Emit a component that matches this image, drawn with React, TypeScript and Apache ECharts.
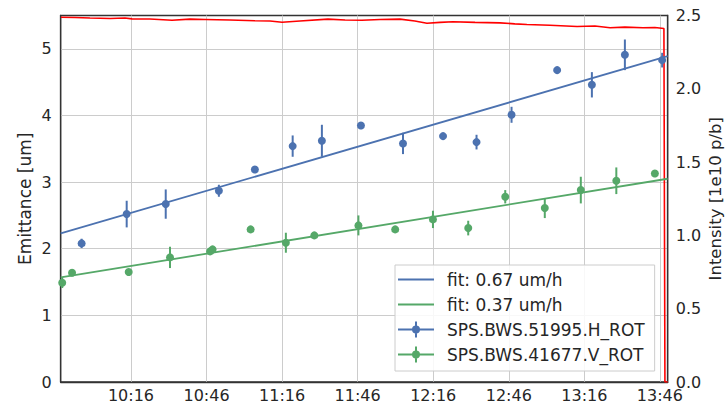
import React, { useEffect, useRef } from 'react';
import * as echarts from 'echarts';

// ---- data (times in minutes since midnight) ----
const xTickMinutes = [616, 646, 676, 706, 736, 766, 796, 826];
const emittanceTicks = [0, 1, 2, 3, 4, 5];
const intensityTicks = [0, 0.5, 1, 1.5, 2, 2.5];

const hName = 'SPS.BWS.51995.H_ROT';
const hTime = [596.4, 614.3, 629.8, 650.9, 665.2, 680.2, 691.8, 707.3, 724.0, 739.9, 753.2, 767.1, 785.2, 799.0, 812.1, 826.9];
const hEmit = [2.08, 2.52, 2.67, 2.87, 3.19, 3.54, 3.62, 3.85, 3.58, 3.69, 3.60, 4.01, 4.68, 4.46, 4.91, 4.83];
const hErr = [0.07, 0.2, 0.22, 0.09, 0.03, 0.16, 0.24, 0.03, 0.16, 0.03, 0.11, 0.12, 0.04, 0.19, 0.23, 0.11];

const vName = 'SPS.BWS.41677.V_ROT';
const vTime = [588.7, 592.6, 615.1, 631.5, 647.4, 648.4, 663.5, 677.5, 688.8, 706.3, 720.9, 735.9, 749.9, 764.6, 780.3, 794.6, 808.7, 824.0];
const vEmit = [1.49, 1.64, 1.65, 1.87, 1.96, 1.99, 2.29, 2.09, 2.20, 2.35, 2.29, 2.44, 2.31, 2.78, 2.61, 2.88, 3.02, 3.13];
const vErr = [0.08, 0.03, 0.03, 0.16, 0.04, 0.03, 0.03, 0.15, 0.03, 0.15, 0.03, 0.13, 0.11, 0.1, 0.15, 0.2, 0.2, 0.03];

const hFitName = 'fit: 0.67 um/h';
const vFitName = 'fit: 0.37 um/h';
const fitTime = [588.1, 829.1];
const hFitValues = [2.23, 4.89];
const vFitValues = [1.57, 3.05];

const intensityTime = [588.2, 593.8, 599.7, 607.7, 613.6, 616.4, 623.5, 632.3, 639.4, 645.4, 655.3, 665.2, 671.2, 676.0, 683.1, 694.2, 701.0, 707.7, 714.9, 722.8, 728.7, 733.5, 738.7, 743.8, 752.6, 762.5, 768.4, 773.2, 782.3, 793.1, 800.2, 806.2, 812.1, 819.3, 824.0, 827.6, 828.0, 829.1];
const intensityValues = [2.488, 2.486, 2.483, 2.48, 2.483, 2.477, 2.476, 2.468, 2.475, 2.473, 2.469, 2.464, 2.462, 2.454, 2.462, 2.475, 2.469, 2.468, 2.473, 2.475, 2.462, 2.447, 2.453, 2.457, 2.453, 2.45, 2.443, 2.439, 2.433, 2.425, 2.428, 2.416, 2.421, 2.416, 2.418, 2.411, 0, 0];

// ---- style ----
const BLUE = '#4C72B0';
const GREEN = '#55A868';
const RED = '#ff0000';
const TEXT = '#262626';
const FONT = 'DejaVu Sans';
const ERR_ICON = 'path://M0,7H36V9H0Z M17,0H19V16H17Z M22,8A4,4,0,1,1,14,8A4,4,0,1,1,22,8Z';
const LINE_ICON = 'path://M0,0H0.01V0.01H0Z M0,7H36V9H0Z M35.99,15.99H36V16H35.99Z';

const fmtTime = (v: number) => {
  const h = Math.floor(v / 60);
  const m = Math.round(v - h * 60);
  return `${h}:${String(m).padStart(2, '0')}`;
};

const errBars = (t: number[], e: number[], err: number[]) => t.map((x, i) => [x, e[i] - err[i], e[i] + err[i]]);
const pairs = (a: number[], b: number[]) => a.map((x, i) => [x, b[i]]);

const errSeries = (name: string, data: number[][], color: string) => ({
  type: 'custom',
  name,
  xAxisIndex: 0,
  yAxisIndex: 0,
  data,
  encode: { x: 0, y: [1, 2] },
  z: 4,
  renderItem: (_p: any, api: any) => {
    const a = api.coord([api.value(0), api.value(1)]);
    const b = api.coord([api.value(0), api.value(2)]);
    return {
      type: 'line',
      shape: { x1: a[0], y1: a[1], x2: b[0], y2: b[1] },
      style: { stroke: color, lineWidth: 2 },
    };
  },
});

export default function App() {
  const ref = useRef<HTMLDivElement>(null);
  useEffect(() => {
    if (!ref.current) return;
    const chart = echarts.init(ref.current, undefined, { renderer: 'svg' });
    const option: any = {
      animation: false,
      backgroundColor: '#ffffff',
      textStyle: { fontFamily: FONT, color: TEXT },
      grid: {
        left: 60.7, top: 15.5, width: 607, height: 366.5,
        outerBoundsMode: 'none',
        containLabel: false,
        show: true, borderColor: '#333333', borderWidth: 1.3, backgroundColor: 'transparent',
      },
      legend: {
        orient: 'vertical',
        left: 395, top: 265,
        itemWidth: 36, itemHeight: 16, itemGap: 8,
        padding: [6, 10, 8, 3],
        backgroundColor: 'rgba(255,255,255,0.85)',
        borderColor: '#cccccc', borderWidth: 1,
        textStyle: { fontFamily: FONT, fontSize: 17, color: TEXT, padding: [0, 0, 0, 8] },
        data: [
          { name: hFitName, icon: LINE_ICON, itemStyle: { color: BLUE } },
          { name: vFitName, icon: LINE_ICON, itemStyle: { color: GREEN } },
          { name: hName, icon: ERR_ICON },
          { name: vName, icon: ERR_ICON },
        ],
      },
      xAxis: {
        type: 'value',
        min: 588.1, max: 829.1,
        axisLine: { show: true, lineStyle: { color: '#333333', width: 1.3 } },
        axisTick: { show: false, customValues: xTickMinutes },
        axisLabel: { customValues: xTickMinutes, formatter: fmtTime, fontSize: 16, lineHeight: 17, color: TEXT, fontFamily: FONT, margin: 5 },
        splitLine: { show: true, lineStyle: { color: '#cccccc', width: 1 } },
      },
      yAxis: [
        {
          type: 'value', min: 0, max: 5.5, position: 'left',
          name: 'Emittance [um]', nameLocation: 'middle', nameGap: 27, nameMoveOverlap: false,
          nameTextStyle: { fontSize: 17, lineHeight: 17, color: TEXT, fontFamily: FONT },
          axisLine: { show: true, lineStyle: { color: '#333333', width: 1.3 } },
          axisTick: { show: false, customValues: emittanceTicks },
          axisLabel: { customValues: emittanceTicks, fontSize: 16, color: TEXT, fontFamily: FONT, margin: 9 },
          splitLine: { show: true, lineStyle: { color: '#cccccc', width: 1 } },
        },
        {
          type: 'value', min: 0, max: 2.5, position: 'right',
          name: 'Intensity [1e10 p/b]', nameLocation: 'middle', nameGap: 39, nameMoveOverlap: false,
          nameTextStyle: { fontSize: 16.5, lineHeight: 17, color: TEXT, fontFamily: FONT },
          axisLine: { show: true, lineStyle: { color: '#333333', width: 1.3 } },
          axisTick: { show: false, customValues: intensityTicks },
          axisLabel: { customValues: intensityTicks, formatter: (v: number) => v.toFixed(1), fontSize: 16, color: TEXT, fontFamily: FONT, margin: 8 },
          splitLine: { show: false },
        },
      ],
      series: [
        {
          type: 'line', name: 'Intensity', yAxisIndex: 1,
          data: pairs(intensityTime, intensityValues),
          symbol: 'none', lineStyle: { color: RED, width: 1.6 }, z: 2,
        },
        {
          type: 'line', name: hFitName, yAxisIndex: 0,
          data: pairs(fitTime, hFitValues),
          symbol: 'none', color: BLUE, lineStyle: { color: BLUE, width: 1.8 }, z: 3,
        },
        {
          type: 'line', name: vFitName, yAxisIndex: 0,
          data: pairs(fitTime, vFitValues),
          symbol: 'none', color: GREEN, lineStyle: { color: GREEN, width: 1.8 }, z: 3,
        },
        errSeries('hErr', errBars(hTime, hEmit, hErr), BLUE),
        errSeries('vErr', errBars(vTime, vEmit, vErr), GREEN),
        {
          type: 'scatter', name: hName, yAxisIndex: 0,
          data: pairs(hTime, hEmit), symbol: 'circle', symbolSize: 8,
          itemStyle: { color: BLUE, opacity: 1 }, z: 5,
        },
        {
          type: 'scatter', name: vName, yAxisIndex: 0,
          data: pairs(vTime, vEmit), symbol: 'circle', symbolSize: 8,
          itemStyle: { color: GREEN, opacity: 1 }, z: 5,
        },
      ],
    };
    chart.setOption(option);
    return () => chart.dispose();
  }, []);
  return (
    <div
      ref={ref}
      style={{ position: 'fixed', left: 0, top: 0, width: 726, height: 406, background: '#ffffff' }}
    />
  );
}
